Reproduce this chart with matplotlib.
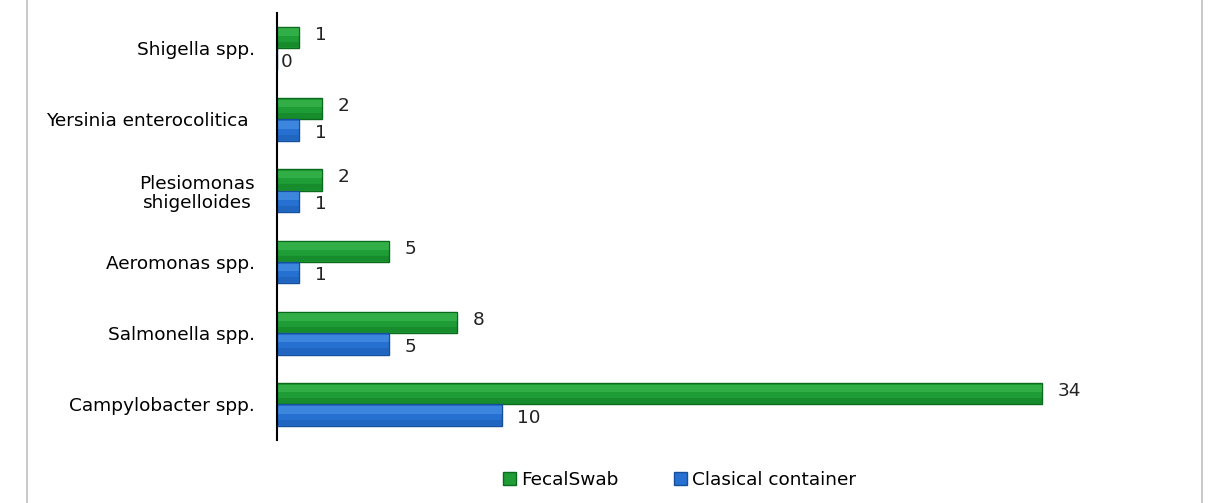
import matplotlib.pyplot as plt
import numpy as np

categorias = ["Campylobacter spp.", "Salmonella spp.", "Aeromonas spp.",
              "Plesiomonas\nshigelloides", "Yersinia enterocolitica ", "Shigella spp."]
fecalswab = [34, 8, 5, 2, 2, 1]
clasico = [10, 5, 1, 1, 1, 0]
series = ["FecalSwab", "Clasical container"]

fig = plt.figure(figsize=(12.09, 5.03), dpi=100)
ax = fig.add_axes([0.229, 0.125, 0.745, 0.85])

y = np.arange(len(categorias))
h = 0.3
verde = "#1e9c35"
azul = "#2570d0"
fs = 13.3

ax.barh(y + h / 2, fecalswab, height=h, color=verde, edgecolor="#0b6a1c", linewidth=1, label=series[0])
ax.barh(y - h / 2, clasico, height=h, color=azul, edgecolor="#174f9a", linewidth=1, label=series[1])
# brilho no topo e sombra embaixo
ax.barh(y + h / 2 + h * 0.25, fecalswab, height=h * 0.35, color="#4cc45d", linewidth=0, alpha=0.45)
ax.barh(y - h / 2 + h * 0.25, clasico, height=h * 0.35, color="#5aa2ee", linewidth=0, alpha=0.45)
ax.barh(y + h / 2 - h * 0.33, fecalswab, height=h * 0.25, color="#0d7422", linewidth=0, alpha=0.4)
ax.barh(y - h / 2 - h * 0.33, clasico, height=h * 0.25, color="#1a55a8", linewidth=0, alpha=0.4)

for i in range(len(categorias)):
    ax.annotate(str(fecalswab[i]), (fecalswab[i], y[i] + h / 2), xytext=(11, 2),
                textcoords="offset points", va="center", fontsize=fs, color="#222222")
    off = 11 if clasico[i] > 0 else 3
    ax.annotate(str(clasico[i]), (clasico[i], y[i] - h / 2), xytext=(off, -2),
                textcoords="offset points", va="center", fontsize=fs, color="#222222")

ax.set_xlim(0, 40)
ax.set_ylim(-0.5, 5.5)
ax.set_yticks(y)
ax.set_yticklabels(categorias, fontsize=fs, multialignment="center", linespacing=1.1)
ax.tick_params(axis="y", length=0, pad=16)
ax.set_xticks([])
for s in ["top", "right", "bottom"]:
    ax.spines[s].set_visible(False)
ax.spines["left"].set_linewidth(1.5)

ax.legend(loc="center", bbox_to_anchor=(0.562, 0.045), bbox_transform=fig.transFigure, ncol=2,
          frameon=False, fontsize=fs, handlelength=0.7, handleheight=0.7, columnspacing=3.0, handletextpad=0.3)

# moldura cinza
fig.add_artist(plt.Line2D([0.022, 0.022], [0, 1], color="#c0c0c0", lw=1.2))
fig.add_artist(plt.Line2D([0.994, 0.994], [0, 1], color="#c0c0c0", lw=1.2))

fig.savefig("out.png", dpi=100)
